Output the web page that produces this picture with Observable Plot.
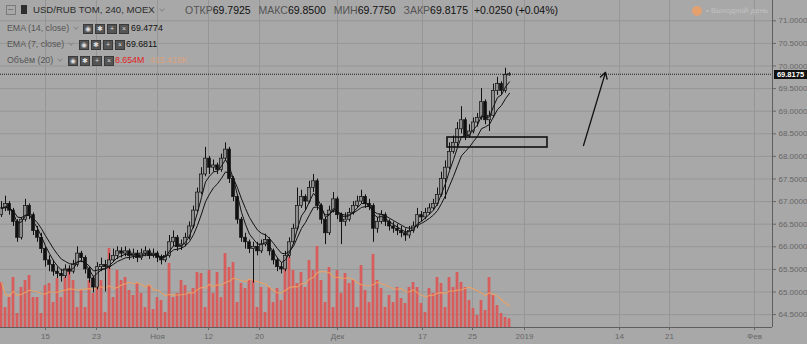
<!DOCTYPE html>
<html><head><meta charset="utf-8">
<script src="https://cdn.jsdelivr.net/npm/d3@7"></script>
<script src="https://cdn.jsdelivr.net/npm/@observablehq/plot@0.6"></script>
<style>
html,body{margin:0;padding:0;background:#a8a8a8;}
#wrap{position:relative;width:807px;height:344px;overflow:hidden;background:#a8a8a8;font-family:"Liberation Sans",Arial,sans-serif;}
#wrap svg{position:absolute;left:0;top:0;}
.abs{position:absolute;white-space:nowrap;line-height:14px;}
.lb{color:#555;margin-left:5px;}
.vl{color:#111;}
.leg{color:#555;font-size:8.8px;}
.chev{display:inline-block;width:3px;height:3px;border-right:1px solid #8a8a8a;border-bottom:1px solid #8a8a8a;transform:rotate(45deg);margin-left:5px;position:relative;top:-2px;}
.ib{display:inline-block;width:8px;height:8px;background:#555;border:1px solid #3a3a3a;color:#ddd;font-size:7px;line-height:8px;text-align:center;margin-right:2px;vertical-align:middle;}
</style></head><body><div id="wrap"></div>
<script>
// ---- data (4h bars) ----
const opens = [66.70,66.85,66.95,66.80,66.55,66.20,66.60,66.90,66.70,66.35,
66.20,65.95,65.70,65.60,65.45,65.40,65.35,65.50,65.45,65.60,
65.85,65.75,65.50,65.30,65.10,65.55,65.60,65.55,65.70,65.80,
65.90,65.85,65.90,65.80,65.85,65.75,65.85,65.90,65.80,65.85,
65.75,65.70,65.80,66.10,66.20,66.00,66.05,66.20,66.45,66.80,
67.20,67.60,67.95,67.75,67.80,67.70,67.95,68.15,67.50,67.10,
66.60,66.20,66.10,65.95,66.00,65.90,66.05,66.15,65.90,65.70,
65.55,65.50,65.80,66.10,66.40,66.90,67.10,67.00,67.30,67.45,
66.90,66.60,66.30,66.80,67.05,66.70,66.55,66.60,66.75,66.90,
67.00,67.10,66.95,66.90,66.40,66.55,66.70,66.55,66.45,66.40,
66.35,66.30,66.25,66.35,66.45,66.70,66.65,66.75,66.85,66.95,
67.15,67.50,67.75,68.10,68.30,68.60,68.80,68.45,68.55,68.75,
68.85,69.20,68.80,68.90,69.45,69.60,69.45,69.7925];
const highs = [67.00,67.12,67.00,66.85,66.60,66.65,67.05,66.95,66.75,66.45,
66.30,66.00,65.80,65.70,65.55,65.50,65.60,65.58,65.70,66.00,
65.90,65.80,65.55,65.35,65.65,65.75,65.70,65.85,65.95,66.00,
65.98,66.00,65.95,65.95,65.92,65.95,66.00,65.95,65.95,65.90,
65.82,65.90,66.25,66.35,66.25,66.15,66.30,66.55,66.90,67.30,
67.75,68.20,68.00,67.92,67.85,68.05,68.30,68.20,67.55,67.15,
66.65,66.30,66.15,66.10,66.10,66.15,66.28,66.20,65.95,65.75,
65.65,65.90,66.20,66.50,67.30,67.25,67.15,67.45,67.60,67.50,
66.95,66.65,66.90,67.20,67.10,66.75,66.75,66.85,67.00,67.12,
67.25,67.15,67.05,66.95,66.65,66.80,66.75,66.60,66.55,66.50,
66.45,66.40,66.45,66.55,66.85,66.78,66.85,66.95,67.05,67.30,
67.65,67.90,68.30,68.45,68.75,69.10,68.85,68.70,68.85,68.95,
69.50,69.25,69.00,69.60,69.75,69.65,69.95,69.85];
const lows = [66.65,66.78,66.70,66.45,66.10,66.15,66.55,66.60,66.25,66.10,
65.85,65.55,65.45,65.35,65.30,65.22,65.30,65.38,65.40,65.55,
65.65,65.40,65.20,64.98,65.05,65.45,65.00,65.50,65.65,65.72,
65.75,65.78,65.70,65.72,65.65,65.70,65.78,65.72,65.75,65.65,
65.60,65.65,65.75,66.00,65.90,65.92,66.00,66.15,66.40,66.75,
67.15,67.55,67.60,67.65,67.60,67.65,67.90,67.40,67.00,66.50,
66.10,65.95,65.85,65.20,65.80,65.85,66.00,65.80,65.60,65.45,
65.40,65.45,65.75,66.05,66.35,66.85,66.80,66.95,67.20,66.80,
66.50,66.05,66.25,66.75,66.60,66.05,66.45,66.55,66.70,66.85,
66.95,66.85,66.80,66.10,66.30,66.50,66.45,66.35,66.30,66.25,
66.20,66.12,66.18,66.30,66.40,66.55,66.60,66.70,66.80,66.90,
67.10,67.05,67.70,68.05,68.20,68.50,68.35,68.40,68.50,68.65,
68.80,68.70,68.55,68.85,69.35,69.35,69.40,69.775];
const closes = [66.85,66.95,66.80,66.55,66.20,66.60,66.90,66.70,66.35,66.20,
65.95,65.70,65.60,65.45,65.40,65.35,65.50,65.45,65.60,65.85,
65.75,65.50,65.30,65.10,65.55,65.60,65.55,65.70,65.80,65.90,
65.85,65.90,65.80,65.85,65.75,65.85,65.90,65.80,65.85,65.75,
65.70,65.80,66.10,66.20,66.00,66.05,66.20,66.45,66.80,67.20,
67.60,67.95,67.75,67.80,67.70,67.95,68.15,67.50,67.10,66.60,
66.20,66.10,65.95,66.00,65.90,66.05,66.15,65.90,65.70,65.55,
65.50,65.80,66.10,66.40,66.90,67.10,67.00,67.30,67.45,66.90,
66.60,66.30,66.80,67.05,66.70,66.55,66.60,66.75,66.90,67.00,
67.10,66.95,66.90,66.40,66.55,66.70,66.55,66.45,66.40,66.35,
66.30,66.25,66.35,66.45,66.70,66.65,66.75,66.85,66.95,67.15,
67.50,67.75,68.10,68.30,68.60,68.80,68.45,68.55,68.75,68.85,
69.20,68.80,68.90,69.45,69.60,69.45,69.80,69.8175];
// volume, millions
const volumes = [45,20,30,50,14,40,47,52,30,30,
14,42,44,25,49,30,50,59,47,20,
37,20,47,34,54,47,15,79,30,57,
47,50,37,32,44,34,20,42,18,30,
27,15,64,30,34,47,42,34,39,55,
54,20,57,34,55,30,74,60,65,25,
44,39,47,47,20,40,15,40,25,39,
27,70,70,57,44,55,40,67,57,81,
47,25,60,20,57,34,54,44,47,20,
62,37,25,73,47,39,20,32,25,40,
29,24,40,45,40,24,15,39,34,50,
44,20,50,40,55,45,40,27,19,12,
27,17,50,32,22,14,10,8.654];
// date axis: bar position of each label
const tickBars = [11,23.75,39,51.75,64.5,84,105.25,117.75,130.75,154.5,167,188.25];
const tickLabels = ["15","23","Ноя","12","20","Дек","17","25","2019","14","21","Фев"];
const priceTicks = [64.5,65,65.5,66,66.5,67,67.5,68,68.5,69,69.5,70,70.5,71];
// user drawings (bar index, price)
const zoneBoxes = [{x1:111.5, x2:136.5, y1:68.197, y2:68.418}];
const trendArrows = [{x1:145.5, y1:68.24, x2:151, y2:69.86}];

(function(){
const bars = closes.map((c,i)=>({i, o:opens[i], h:highs[i], l:lows[i], c, v:volumes[i]}));
function ema(vals, n){ const a = 2/(n+1); let e = vals[0]; return vals.map((v,i)=> i===0 ? e : (e = a*v + (1-a)*e)); }
// periods scaled to this bar density (EMA 7 / EMA 14 of the source chart)
const emaFast = ema(closes, 4), emaSlow = ema(closes, 8);
const lastClose = closes[closes.length-1];

const W = 807, H = 344;
const xDomain = [-0.25, 192.75];
const yDomain = [64.215, 71.449];
const base = {width:W, height:H, marginLeft:0, marginRight:35, marginTop:0, marginBottom:17,
  style:{background:"transparent", overflow:"visible", fontFamily:"Liberation Sans, Arial, sans-serif"}};

const wrap = document.getElementById("wrap");

const gridLayer = Plot.plot({...base,
  x:{domain:xDomain, axis:null}, y:{domain:yDomain, axis:null},
  marks:[
    Plot.gridY(priceTicks, {stroke:"#969696", strokeOpacity:1, strokeWidth:1}),
    Plot.gridX(tickBars, {stroke:"#969696", strokeOpacity:1, strokeWidth:1})
  ]});
wrap.appendChild(gridLayer);

const volLayer = Plot.plot({...base,
  x:{domain:xDomain, axis:null}, y:{domain:[0,327], axis:null},
  marks:[
    Plot.rectY(bars, {x1:d=>d.i-0.34, x2:d=>d.i+0.34, y1:0, y2:"v", fill:"#dc5656", fillOpacity:0.92}),
    Plot.lineY(bars, Plot.windowY({k:11, anchor:"end"}, {x:"i", y:"v", stroke:"#f0a060", strokeWidth:1.1, strokeOpacity:0.9}))
  ]});
wrap.appendChild(volLayer);

const upBars = bars.filter(d=>d.c>=d.o), downBars = bars.filter(d=>d.c<d.o);
const priceLayer = Plot.plot({...base,
  x:{domain:xDomain}, y:{domain:yDomain},
  marks:[
    Plot.ruleY([lastClose], {stroke:"#222", strokeWidth:1, strokeDasharray:"1,1"}),
    Plot.ruleX(bars, {x:"i", y1:"l", y2:"h", stroke:"#111", strokeWidth:1}),
    Plot.rect(upBars, {x1:d=>d.i-0.34, x2:d=>d.i+0.34, y1:"o", y2:"c", fill:"#8e8e8e", stroke:"#111", strokeWidth:0.7}),
    Plot.rect(downBars, {x1:d=>d.i-0.34, x2:d=>d.i+0.34, y1:"o", y2:"c", fill:"#111", stroke:"#111", strokeWidth:0.7}),
    Plot.lineY(bars, {x:"i", y:d=>emaSlow[d.i], stroke:"#111", strokeWidth:1}),
    Plot.lineY(bars, {x:"i", y:d=>emaFast[d.i], stroke:"#111", strokeWidth:1}),
    Plot.rect(zoneBoxes, {x1:"x1", x2:"x2", y1:"y1", y2:"y2", fill:"none", stroke:"#111", strokeWidth:1.6}),
    Plot.arrow(trendArrows, {x1:"x1", y1:"y1", x2:"x2", y2:"y2", stroke:"#111", strokeWidth:1.3, headLength:8, bend:0}),
    Plot.ruleX([xDomain[1]], {stroke:"#5e5e5e", strokeWidth:1}),
    Plot.ruleY([yDomain[0]], {stroke:"#5e5e5e", strokeWidth:1}),
    Plot.axisY(priceTicks, {anchor:"right", tickFormat:d3.format(".4f"), tickSize:3, tickPadding:3, fontSize:8, fill:"#666", stroke:"#666", label:null}),
    Plot.axisX(tickBars, {anchor:"bottom", tickFormat:d=>tickLabels[tickBars.indexOf(d)], tickSize:3, tickPadding:3, fontSize:8, fill:"#666", stroke:"#666", label:null})
  ]});
wrap.appendChild(priceLayer);

// current price badge placed with the plot's own scales
const yPix = priceLayer.scale("y").apply(lastClose);
const xPix = priceLayer.scale("x").apply(xDomain[1]);
const badge = document.createElement("div");
badge.className = "abs";
badge.style.cssText = `left:${xPix+2}px;top:${yPix-4}px;width:${W-xPix-2}px;height:9px;line-height:9px;background:#111;color:#fff;font-size:7.5px;font-weight:bold;text-align:center;`;
badge.textContent = lastClose.toFixed(4);
wrap.appendChild(badge);

// ---- header / legend text ----
const lastVol = volumes[volumes.length-1];
const hdr = document.createElement("div");
hdr.innerHTML = `
<div class="abs" style="left:6px;top:5px;width:8px;height:8px;border:1px solid #7a7a7a;"></div>
<div class="abs" style="left:8px;top:9px;width:5px;height:1px;background:#7a7a7a;"></div>
<div class="abs" style="left:21px;top:5px;width:6px;height:9px;background:#2e2e2e;"></div>
<div class="abs" style="left:33px;top:3px;font-size:9.6px;color:#2b2b2b;">USD/RUB TOM, 240, MOEX<span class="chev"></span></div>
<div class="abs" style="left:180px;top:3px;font-size:10.5px;">
<span class="lb">ОТКР</span><span class="vl">69.7925</span>
<span class="lb">МАКС</span><span class="vl">69.8500</span>
<span class="lb">МИН</span><span class="vl">69.7750</span>
<span class="lb">ЗАКР</span><span class="vl">${lastClose.toFixed(4)}</span>
<span class="vl" style="margin-left:3px">+0.0250 (+0.04%)</span></div>
<div class="abs leg" style="left:7px;top:21px;">EMA (14, close)<span class="chev"></span></div>
<div class="abs" style="left:83px;top:21px;"><span class="ib">◉</span><span class="ib">✱</span><span class="ib">+</span><span class="ib">×</span></div>
<div class="abs" style="left:131px;top:21px;font-size:8.8px;color:#111;">69.4774</div>
<div class="abs leg" style="left:7px;top:37px;">EMA (7, close)<span class="chev"></span></div>
<div class="abs" style="left:79px;top:37px;"><span class="ib">◉</span><span class="ib">✱</span><span class="ib">+</span><span class="ib">×</span></div>
<div class="abs" style="left:126px;top:37px;font-size:8.8px;color:#111;">69.6811</div>
<div class="abs leg" style="left:7px;top:53px;">Объём (20)<span class="chev"></span></div>
<div class="abs" style="left:68px;top:53px;"><span class="ib">◉</span><span class="ib">✱</span><span class="ib">+</span><span class="ib">×</span></div>
<div class="abs" style="left:115px;top:53px;font-size:8.8px;color:#e02020;">${lastVol.toFixed(3)}M</div>
<div class="abs" style="left:150px;top:53px;font-size:8.8px;color:#e8a070;opacity:0.8;">415.416K</div>
<div class="abs" style="left:692px;top:6px;width:10px;height:10px;border-radius:50%;background:#e5a070;"></div>
<div class="abs" style="left:706px;top:4px;font-size:8px;color:#c0c0c0;">• Выходной день</div>
`;
wrap.appendChild(hdr);
})();
</script>
</body></html>
